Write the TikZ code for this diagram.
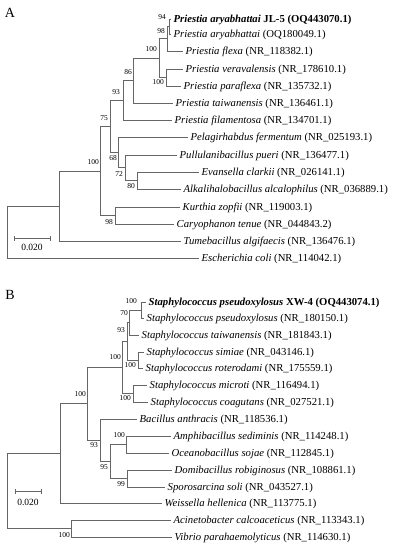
\documentclass[tikz,border=0pt]{standalone}
\usepackage{fontspec}
\setmainfont{Liberation Serif}
\begin{document}
\begin{tikzpicture}[x=1bp,y=-1bp,
  br/.style={draw=black!60, line width=0.9bp},
  leaf/.style={anchor=west, inner sep=0pt, xshift=2.5bp, font=\fontsize{10.7bp}{12bp}\selectfont, text height=7.7bp, text depth=1.6bp},
  bs/.style={anchor=east, inner sep=0pt, font=\fontsize{7.5bp}{9bp}\selectfont, text height=5.5bp, text depth=0pt},
  panel/.style={inner sep=0pt, font=\fontsize{14bp}{16bp}\selectfont},
  sclab/.style={inner sep=0pt, font=\fontsize{9.5bp}{11bp}\selectfont}]
\useasboundingbox (0,0) rectangle (393,550);
\fill[white] (0,0) rectangle (393,550);

% ================= Panel A =================
\node[panel] (pA) at (10,13) {A};
% leaf tips
\coordinate (a1t) at (171,19);
\coordinate (a2t) at (171,34);
\coordinate (a3t) at (183,51);
\coordinate (a4t) at (183,69);
\coordinate (a5t) at (181,86);
\coordinate (a6t) at (173,103);
\coordinate (a7t) at (172,120);
\coordinate (a8t) at (188,137.5);
\coordinate (a9t) at (177,155);
\coordinate (a10t) at (199,172);
\coordinate (a11t) at (181,189.5);
\coordinate (a12t) at (180,207);
\coordinate (a13t) at (174,224);
\coordinate (a14t) at (181,241);
\coordinate (a15t) at (199,258.5);
% internal nodes
\coordinate (n94) at (169.5,26.5);
\coordinate (n98) at (167,38.75);
\coordinate (n100b) at (166.5,77.5);
\coordinate (n100a) at (159,58.1);
\coordinate (n86) at (133,80.6);
\coordinate (n93) at (123,100.3);
\coordinate (n80) at (137,180.75);
\coordinate (n72) at (125,167.9);
\coordinate (n68) at (118,152.7);
\coordinate (n75) at (110,126.5);
\coordinate (n98b) at (115,215.5);
\coordinate (n100) at (100,171);
\coordinate (nA1) at (59,206);
\coordinate (rootA) at (7,232);
% branches
\draw[br] (n94) |- (a1t); \draw[br] (n94) |- (a2t);
\draw[br] (n98) |- (n94); \draw[br] (n98) |- (a3t);
\draw[br] (n100b) |- (a4t); \draw[br] (n100b) |- (a5t);
\draw[br] (n100a) |- (n98); \draw[br] (n100a) |- (n100b);
\draw[br] (n86) |- (n100a); \draw[br] (n86) |- (a6t);
\draw[br] (n93) |- (n86); \draw[br] (n93) |- (a7t);
\draw[br] (n80) |- (a10t); \draw[br] (n80) |- (a11t);
\draw[br] (n72) |- (a9t); \draw[br] (n72) |- (n80);
\draw[br] (n68) |- (a8t); \draw[br] (n68) |- (n72);
\draw[br] (n75) |- (n93); \draw[br] (n75) |- (n68);
\draw[br] (n98b) |- (a12t); \draw[br] (n98b) |- (a13t);
\draw[br] (n100) |- (n75); \draw[br] (n100) |- (n98b);
\draw[br] (nA1) |- (n100); \draw[br] (nA1) |- (a14t);
\draw[br] (rootA) |- (nA1); \draw[br] (rootA) |- (a15t);
% leaf labels
\node[leaf] (a1) at (a1t) {\textbf{\textit{Priestia aryabhattai} JL-5 (OQ443070.1)}};
\node[leaf] (a2) at (a2t) {\textit{Priestia aryabhattai} (OQ180049.1)};
\node[leaf] (a3) at (a3t) {\textit{Priestia flexa} (NR\_118382.1)};
\node[leaf] (a4) at (a4t) {\textit{Priestia veravalensis} (NR\_178610.1)};
\node[leaf] (a5) at (a5t) {\textit{Priestia paraflexa} (NR\_135732.1)};
\node[leaf] (a6) at (a6t) {\textit{Priestia taiwanensis} (NR\_136461.1)};
\node[leaf] (a7) at (a7t) {\textit{Priestia filamentosa} (NR\_134701.1)};
\node[leaf] (a8) at (a8t) {\textit{Pelagirhabdus fermentum} (NR\_025193.1)};
\node[leaf] (a9) at (a9t) {\textit{Pullulanibacillus pueri} (NR\_136477.1)};
\node[leaf] (a10) at (a10t) {\textit{Evansella clarkii} (NR\_026141.1)};
\node[leaf] (a11) at (a11t) {\textit{Alkalihalobacillus alcalophilus} (NR\_036889.1)};
\node[leaf] (a12) at (a12t) {\textit{Kurthia zopfii} (NR\_119003.1)};
\node[leaf] (a13) at (a13t) {\textit{Caryophanon tenue} (NR\_044843.2)};
\node[leaf] (a14) at (a14t) {\textit{Tumebacillus algifaecis} (NR\_136476.1)};
\node[leaf] (a15) at (a15t) {\textit{Escherichia coli} (NR\_114042.1)};
% bootstrap values
\node[bs] (s94) at (166,17) {94};
\node[bs] (s98) at (165,31) {98};
\node[bs] (s100a) at (157,49) {100};
\node[bs] (s100b) at (164,82) {100};
\node[bs] (s86) at (132,72) {86};
\node[bs] (s93) at (120,92) {93};
\node[bs] (s75) at (108,118) {75};
\node[bs] (s100) at (99,162) {100};
\node[bs] (s68) at (117,157.5) {68};
\node[bs] (s72) at (123,174) {72};
\node[bs] (s80) at (135,186) {80};
\node[bs] (s98b) at (113,221.5) {98};
% scale bar
\coordinate (scA1) at (14,238);
\coordinate (scA2) at (50,238);
\draw[br] (scA1) -- (scA2);
\draw[br] ([yshift=-2.5bp]scA1) -- ([yshift=2.5bp]scA1);
\draw[br] ([yshift=-2.5bp]scA2) -- ([yshift=2.5bp]scA2);
\node[sclab] (scAl) at (32,247) {0.020};

% ================= Panel B =================
\node[panel] (pB) at (10,295) {B};
\coordinate (b1t) at (146,302);
\coordinate (b2t) at (144,318);
\coordinate (b3t) at (139,335);
\coordinate (b4t) at (144,352);
\coordinate (b5t) at (143,368.5);
\coordinate (b6t) at (147,385);
\coordinate (b7t) at (148,402);
\coordinate (b8t) at (137,419);
\coordinate (b9t) at (171,436);
\coordinate (b10t) at (169,453);
\coordinate (b11t) at (172,470);
\coordinate (b12t) at (165,487);
\coordinate (b13t) at (162,503);
\coordinate (b14t) at (171,520);
\coordinate (b15t) at (172,537);
\coordinate (m100a) at (141.5,310);
\coordinate (m70) at (129.5,322.5);
\coordinate (m100b) at (138,360.25);
\coordinate (m93) at (127,341.4);
\coordinate (m100c) at (133,393.5);
\coordinate (mStaph) at (122.5,367.4);
\coordinate (m100d) at (126,444.5);
\coordinate (m99) at (127.5,478.5);
\coordinate (m95) at (110,461.5);
\coordinate (m93b) at (100,440.2);
\coordinate (m100big) at (87,403.8);
\coordinate (mN) at (60,453.4);
\coordinate (m100e) at (71,528.5);
\coordinate (rootB) at (7,491);
\draw[br] (m100a) |- (b1t); \draw[br] (m100a) |- (b2t);
\draw[br] (m70) |- (m100a); \draw[br] (m70) |- (b3t);
\draw[br] (m100b) |- (b4t); \draw[br] (m100b) |- (b5t);
\draw[br] (m93) |- (m70); \draw[br] (m93) |- (m100b);
\draw[br] (m100c) |- (b6t); \draw[br] (m100c) |- (b7t);
\draw[br] (mStaph) |- (m93); \draw[br] (mStaph) |- (m100c);
\draw[br] (m100d) |- (b9t); \draw[br] (m100d) |- (b10t);
\draw[br] (m99) |- (b11t); \draw[br] (m99) |- (b12t);
\draw[br] (m95) |- (m100d); \draw[br] (m95) |- (m99);
\draw[br] (m93b) |- (b8t); \draw[br] (m93b) |- (m95);
\draw[br] (m100big) |- (mStaph); \draw[br] (m100big) |- (m93b);
\draw[br] (mN) |- (m100big); \draw[br] (mN) |- (b13t);
\draw[br] (m100e) |- (b14t); \draw[br] (m100e) |- (b15t);
\draw[br] (rootB) |- (mN); \draw[br] (rootB) |- (m100e);
\node[leaf] (b1) at (b1t) {\textbf{\textit{Staphylococcus pseudoxylosus} XW-4 (OQ443074.1)}};
\node[leaf] (b2) at (b2t) {\textit{Staphylococcus pseudoxylosus} (NR\_180150.1)};
\node[leaf] (b3) at (b3t) {\textit{Staphylococcus taiwanensis} (NR\_181843.1)};
\node[leaf] (b4) at (b4t) {\textit{Staphylococcus simiae} (NR\_043146.1)};
\node[leaf] (b5) at (b5t) {\textit{Staphylococcus roterodami} (NR\_175559.1)};
\node[leaf] (b6) at (b6t) {\textit{Staphylococcus microti} (NR\_116494.1)};
\node[leaf] (b7) at (b7t) {\textit{Staphylococcus coagutans} (NR\_027521.1)};
\node[leaf] (b8) at (b8t) {\textit{Bacillus anthracis} (NR\_118536.1)};
\node[leaf] (b9) at (b9t) {\textit{Amphibacillus sediminis} (NR\_114248.1)};
\node[leaf] (b10) at (b10t) {\textit{Oceanobacillus sojae} (NR\_112845.1)};
\node[leaf] (b11) at (b11t) {\textit{Domibacillus robiginosus} (NR\_108861.1)};
\node[leaf] (b12) at (b12t) {\textit{Sporosarcina soli} (NR\_043527.1)};
\node[leaf] (b13) at (b13t) {\textit{Weissella hellenica} (NR\_113775.1)};
\node[leaf] (b14) at (b14t) {\textit{Acinetobacter calcoaceticus} (NR\_113343.1)};
\node[leaf] (b15) at (b15t) {\textit{Vibrio parahaemolyticus} (NR\_114630.1)};
\node[bs] (t100a) at (137,301) {100};
\node[bs] (t70) at (128,313) {70};
\node[bs] (t93) at (125,330) {93};
\node[bs] (t100b) at (136,365) {100};
\node[bs] (t100s) at (121,357) {100};
\node[bs] (t100c) at (131,398) {100};
\node[bs] (t100big) at (86,394) {100};
\node[bs] (t93b) at (98,445) {93};
\node[bs] (t100d) at (125,435) {100};
\node[bs] (t95) at (108,467) {95};
\node[bs] (t99) at (125,484) {99};
\node[bs] (t100e) at (70,535) {100};
\coordinate (scB1) at (15,491.7);
\coordinate (scB2) at (41.7,491.7);
\draw[br] (scB1) -- (scB2);
\draw[br] ([yshift=-2.5bp]scB1) -- ([yshift=2.5bp]scB1);
\draw[br] ([yshift=-2.5bp]scB2) -- ([yshift=2.5bp]scB2);
\node[sclab] (scBl) at (28,502) {0.020};
\end{tikzpicture}
\end{document}
